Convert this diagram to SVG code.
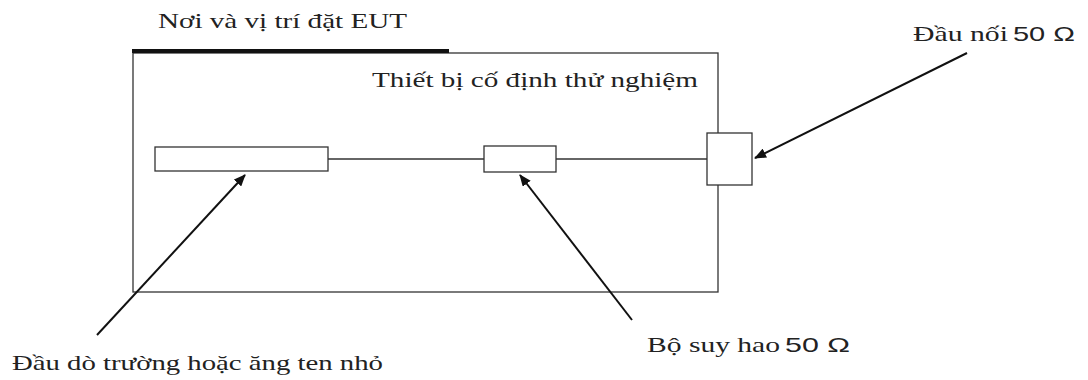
<svg xmlns="http://www.w3.org/2000/svg" width="1088" height="380" viewBox="0 0 1088 380">
<style>
.t{font-family:"Liberation Serif","DejaVu Serif",serif;font-size:22px;fill:#222}
.s{font-family:"Liberation Sans","DejaVu Sans",sans-serif;font-size:21px;fill:#222}
.box{fill:#fff;stroke:#333;stroke-width:1.3}
.ln{stroke:#333;stroke-width:1.3;fill:none}
.ar{stroke:#111;stroke-width:2;fill:none;marker-end:url(#ah)}
</style>
<defs>
<marker id="ah" viewBox="0 0 12 10" refX="11" refY="5" markerWidth="12" markerHeight="10" markerUnits="userSpaceOnUse" orient="auto">
<path d="M0,0 L12,5 L0,10 Z" fill="#111"/>
</marker>
</defs>
<rect width="1088" height="380" fill="#fff"/>
<g id="fixture">
<rect class="box" x="133" y="53" width="585" height="239"/>
<line x1="132" y1="51" x2="449" y2="51" stroke="#111" stroke-width="4"/>
<text class="t" x="372" y="87" textLength="326" lengthAdjust="spacingAndGlyphs">Thiết bị cố định thử nghiệm</text>
</g>
<g id="eut-label">
<text class="t" x="158" y="28" textLength="249" lengthAdjust="spacingAndGlyphs">Nơi và vị trí đặt EUT</text>
</g>
<g id="connectors">
<line class="ln" x1="328" y1="159" x2="484" y2="159"/>
<line class="ln" x1="556" y1="159" x2="707" y2="159"/>
<line class="ar" x1="97" y1="335" x2="245" y2="175"/>
<line class="ar" x1="632" y1="320" x2="520" y2="175"/>
<line class="ar" x1="967" y1="53" x2="755" y2="158"/>
</g>
<g id="probe">
<rect class="box" x="155" y="147" width="173" height="24"/>
</g>
<g id="attenuator">
<rect class="box" x="484" y="146" width="72" height="26"/>
</g>
<g id="connector50">
<rect class="box" x="707" y="133" width="45" height="52"/>
</g>
<g id="label-connector">
<text class="t" x="913" y="41" textLength="95" lengthAdjust="spacingAndGlyphs">Đầu nối</text>
<text class="s" x="1013" y="41" textLength="62" lengthAdjust="spacingAndGlyphs">50 Ω</text>
</g>
<g id="label-attenuator">
<text class="t" x="647" y="352" textLength="133" lengthAdjust="spacingAndGlyphs">Bộ suy hao</text>
<text class="s" x="785" y="352" textLength="65" lengthAdjust="spacingAndGlyphs">50 Ω</text>
</g>
<g id="label-probe">
<text class="t" x="12" y="370" textLength="371" lengthAdjust="spacingAndGlyphs">Đầu dò trường hoặc ăng ten nhỏ</text>
</g>
</svg>
